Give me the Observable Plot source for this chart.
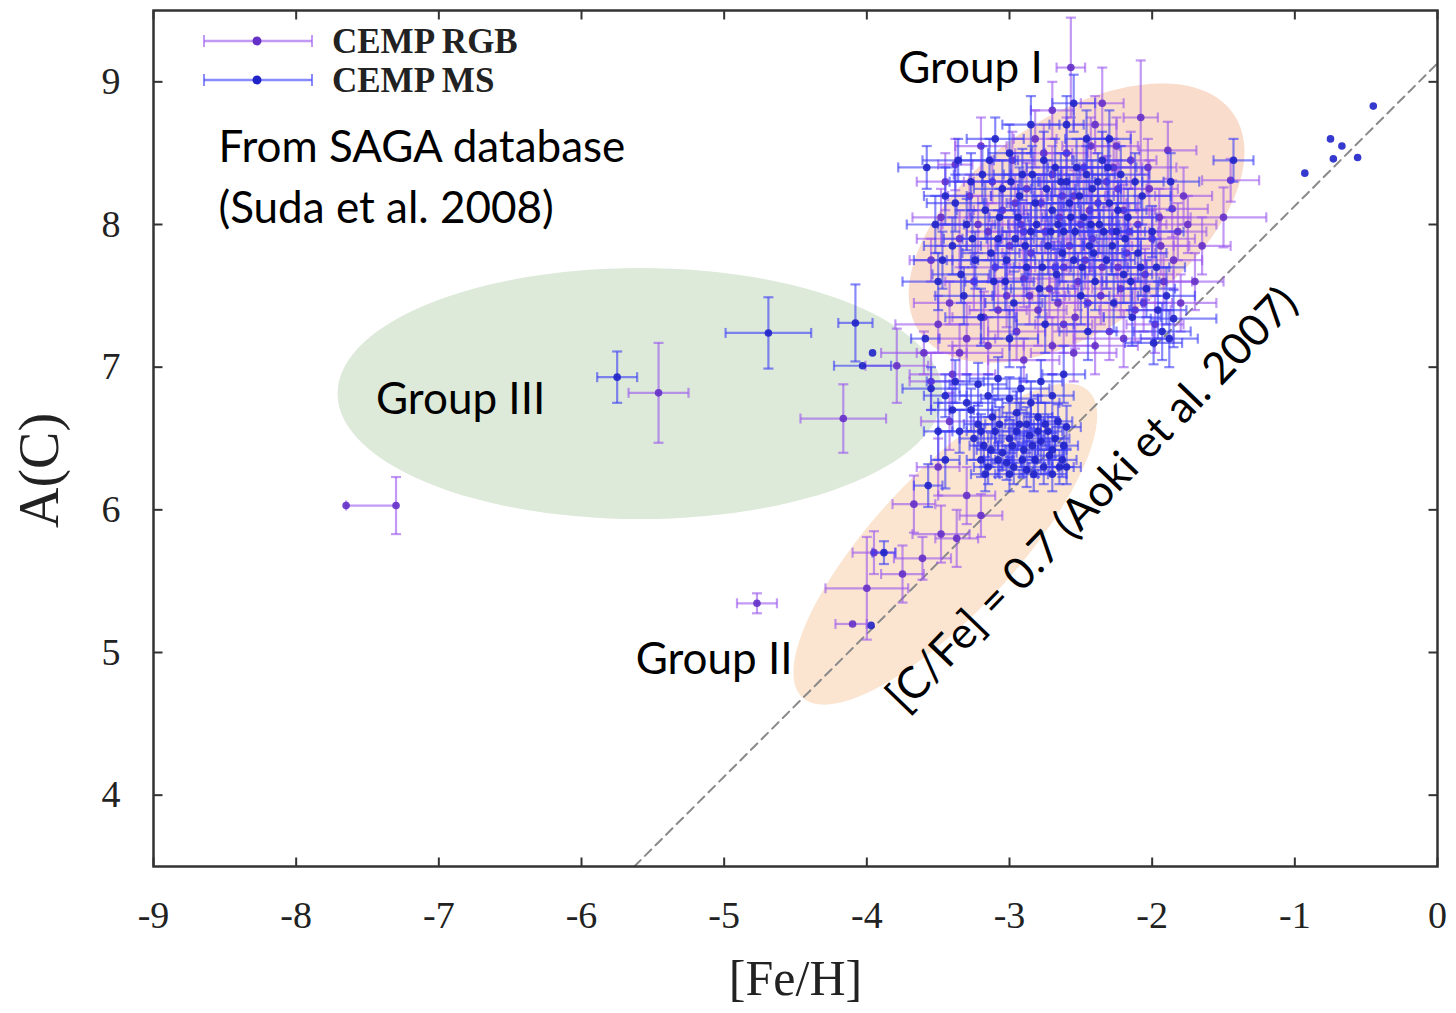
<!DOCTYPE html>
<html><head><meta charset="utf-8">
<script src="https://cdn.jsdelivr.net/npm/d3@7"></script>
<script src="https://cdn.jsdelivr.net/npm/@observablehq/plot@0.6"></script>
<style>
body{margin:0;background:#fff;}
#wrap{position:relative;width:1456px;height:1013px;}
#legend{position:absolute;left:0;top:0;}
</style></head><body>
<div id="wrap"></div>
<script>
// ---- axes ----
const xTicks = [-9, -8, -7, -6, -5, -4, -3, -2, -1, 0];
const yTicks = [4, 5, 6, 7, 8, 9];
const xDomain = [-9, 0];
const yDomain = [3.5, 9.5];

// ---- CEMP RGB stars: [Fe/H], A(C), err[Fe/H] (or [lo,hi]), errA(C) ----
const rgbStars = [
  [-7.65,6.03,0,0],[-7.30,6.03,[0.35,0],0.2],[-5.46,6.82,0.21,0.35],[-4.165,6.64,0.3,0.24],[-3.79,7.01,0.22,0.26],
  [-4.77,5.345,0.14,0.07],[-4.0,5.45,0.29,0.36],[-4.1,5.2,[0.12,0.1],0],[-3.95,5.7,0.15,0.15],[-3.75,5.55,0.15,0.2],
  [-3.67,6.04,0.15,0.2],[-3.61,5.66,0.2,0.15],[-3.48,5.83,0.2,0.2],[-3.37,5.8,0.15,0.2],[-3.2,5.96,0.15,0.15],
  [-3.3,6.1,0.2,0.2],[-3.5,6.3,0.15,0.2],[-3.42,6.62,0.2,0.2],[-3.55,6.9,0.15,0.2],[-3.35,7.1,0.3,0.2],
  [-3.55,7.75,0.15,0.15],[-3.48,8.05,0.2,0.2],[-3.42,7.45,0.25,0.15],[-3.38,8.42,0.12,0.18],[-3.35,7.9,0.3,0.2],
  [-3.3,7.2,0.2,0.25],[-3.28,8.2,0.15,0.15],[-3.25,7.6,0.2,0.2],[-3.2,8.55,0.18,0.2],[-3.18,7.35,0.22,0.18],
  [-3.15,7.95,0.15,0.2],[-3.12,8.3,0.2,0.15],[-3.1,7.7,0.25,0.2],[-3.05,8.1,0.2,0.2],[-3.02,7.5,0.18,0.22],
  [-3.0,7.85,0.3,0.2],[-2.98,8.45,0.15,0.2],[-2.95,7.25,0.2,0.2],[-2.92,8.0,0.2,0.15],[-2.9,7.62,0.25,0.2],
  [-2.88,8.25,0.18,0.18],[-2.85,7.8,0.2,0.2],[-2.82,8.6,0.15,0.2],[-2.8,7.4,0.2,0.25],[-2.78,8.15,0.22,0.2],
  [-2.75,7.95,0.2,0.15],[-2.72,7.55,0.18,0.2],[-2.7,8.35,0.2,0.2],[-2.68,7.7,0.25,0.18],[-2.65,8.05,0.2,0.2],
  [-2.62,7.3,0.2,0.2],[-2.6,8.5,0.15,0.25],[-2.58,7.85,0.2,0.2],[-2.57,9.1,0.1,0.35],[-2.55,8.2,0.22,0.18],
  [-2.52,7.6,0.2,0.2],[-2.5,8.0,0.25,0.2],[-2.48,8.4,0.2,0.2],[-2.45,7.45,0.2,0.2],[-2.42,7.9,0.18,0.15],
  [-2.4,8.7,0.15,0.2],[-2.38,8.15,0.2,0.2],[-2.35,7.7,0.25,0.2],[-2.32,8.3,0.2,0.18],[-2.3,7.25,0.3,0.2],
  [-2.28,7.95,0.2,0.2],[-2.25,8.55,0.15,0.2],[-2.22,7.55,0.2,0.2],[-2.2,8.1,0.22,0.18],[-2.18,7.8,0.2,0.2],
  [-2.15,8.45,0.18,0.2],[-2.12,7.4,0.25,0.22],[-2.1,8.0,0.2,0.2],[-2.08,8.75,0.12,0.4],[-2.05,7.65,0.2,0.18],
  [-2.02,8.25,0.2,0.2],[-2.0,7.9,0.3,0.2],[-1.98,7.3,0.2,0.2],[-1.95,8.05,0.22,0.2],[-1.92,7.6,0.2,0.2],
  [-1.89,8.52,0.2,0.2],[-1.86,8.11,0.25,0.2],[-1.85,7.75,0.2,0.2],[-1.8,7.45,0.25,0.2],[-1.75,8.0,0.2,0.2],
  [-1.7,7.6,0.2,0.2],[-1.45,8.31,0.2,0.15],[-1.5,8.05,[0.44,0.3],0.21],[-1.65,7.85,0.2,0.2],[-3.6,7.1,0.3,0.15],
  [-3.4,6.95,0.3,0.2],[-2.9,7.05,0.25,0.15],[-2.4,7.15,0.3,0.2],[-2.2,7.2,0.35,0.2],
  [-3.45,8.3,0.2,0.2],[-3.22,8.0,0.25,0.2],[-3.08,7.4,0.2,0.2],[-2.96,8.15,0.2,0.2],[-2.86,7.5,0.25,0.2],
  [-2.76,8.5,0.2,0.2],[-2.66,7.45,0.2,0.2],[-2.63,8.2,0.2,0.2],[-2.54,7.35,0.2,0.22],[-2.47,7.75,0.2,0.2],
  [-2.43,8.55,0.2,0.2],[-2.36,7.5,0.22,0.2],[-2.27,8.4,0.2,0.2],[-2.24,7.7,0.2,0.2],[-2.16,7.95,0.2,0.2],
  [-2.06,7.45,0.2,0.2],[-2.03,8.4,0.2,0.2],[-1.94,7.85,0.2,0.2],[-1.82,7.95,0.2,0.2],[-1.78,8.2,0.2,0.2],
  [-3.15,7.15,0.25,0.2],[-2.7,7.15,0.3,0.2],[-2.55,7.1,0.3,0.2],[-3.5,7.3,0.3,0.2],[-2.35,8.85,0.15,0.25],
  [-2.7,8.8,0.15,0.2],[-2.9,7.95,0.25,0.2],[-2.62,7.7,0.2,0.2],[-2.44,8.1,0.2,0.2],[-2.24,8.25,0.2,0.2]
];

// ---- CEMP MS stars ----
const msStars = [
  [-5.75,6.93,0.14,0.18],[-4.69,7.24,0.3,0.25],[-4.08,7.31,0.12,0.27],[-4.03,7.01,0.2,0],[-3.96,7.10,0,0],
  [-3.59,7.2,0.1,0],[-3.88,5.70,0.08,0.08],[-3.57,6.17,0.1,0.15],[-3.97,5.19,0,0],
  [-0.45,8.83,0,0],[-0.75,8.60,0,0],[-0.67,8.55,0,0],[-0.73,8.46,0,0],[-0.56,8.47,0,0],[-0.93,8.36,0,0],
  [-3.55,6.85,0.2,0.15],[-3.45,6.8,0.15,0.15],[-3.38,6.9,0.2,0.15],[-3.3,6.75,0.2,0.2],[-3.22,6.88,0.2,0.15],
  [-3.15,6.8,0.2,0.15],[-3.08,6.92,0.2,0.15],[-3.0,6.78,0.2,0.15],[-2.92,6.85,0.2,0.15],[-2.85,6.75,0.2,0.15],
  [-2.78,6.9,0.15,0.15],[-2.7,6.8,0.15,0.15],[-2.62,6.95,0.15,0.2],[-3.22,6.6,0.1,0.15],[-3.18,6.45,0.1,0.15],
  [-3.15,6.3,0.1,0.12],[-3.1,6.55,0.1,0.15],[-3.05,6.4,0.1,0.12],[-3.0,6.5,0.1,0.15],[-2.97,6.3,0.1,0.12],
  [-2.93,6.6,0.1,0.15],[-2.9,6.42,0.1,0.12],[-2.86,6.52,0.1,0.15],[-2.82,6.35,0.1,0.12],[-2.78,6.48,0.1,0.15],
  [-2.75,6.6,0.1,0.15],[-2.72,6.38,0.1,0.12],[-2.68,6.5,0.1,0.15],[-2.65,6.3,0.1,0.12],[-2.62,6.45,0.1,0.15],
  [-2.6,6.58,0.1,0.15],[-3.12,6.65,0.1,0.15],[-2.95,6.68,0.1,0.15],[-2.8,6.65,0.1,0.15],[-3.08,6.35,0.1,0.12],
  [-2.88,6.28,0.1,0.12],[-2.7,6.25,0.1,0.12],[-3.2,6.35,0.1,0.12],[-3.25,6.5,0.1,0.15],[-3.45,6.35,0.1,0.2],
  [-3.5,6.55,0.1,0.2],
  [-3.2,6.55,0.1,0.12],[-3.13,6.42,0.1,0.12],[-3.07,6.6,0.1,0.12],[-3.02,6.33,0.1,0.12],[-2.98,6.45,0.1,0.12],
  [-2.95,6.55,0.1,0.12],[-2.91,6.35,0.1,0.12],[-2.88,6.6,0.1,0.12],[-2.84,6.45,0.1,0.12],[-2.8,6.55,0.1,0.12],
  [-2.76,6.3,0.1,0.12],[-2.73,6.55,0.1,0.12],[-2.7,6.42,0.1,0.12],[-2.66,6.62,0.1,0.12],[-2.63,6.35,0.1,0.12],
  [-3.17,6.25,0.1,0.12],[-3.0,6.25,0.1,0.12],[-2.83,6.25,0.1,0.12],[-2.6,6.3,0.1,0.12],[-3.27,6.7,0.15,0.15],
  [-3.35,6.55,0.15,0.15],[-3.4,6.7,0.15,0.15],
  [-3.58,8.4,0.2,0.15],[-3.5,7.6,0.25,0.2],[-3.45,8.2,0.15,0.2],[-3.4,7.85,0.2,0.2],[-3.36,8.45,0.25,0.15],
  [-3.32,7.5,0.2,0.2],[-3.3,8.0,0.2,0.18],[-3.27,8.3,0.15,0.2],[-3.24,7.75,0.2,0.2],[-3.2,7.35,0.25,0.2],
  [-3.17,8.1,0.2,0.2],[-3.14,8.45,0.2,0.15],[-3.11,7.6,0.2,0.2],[-3.08,7.9,0.25,0.2],[-3.05,8.25,0.2,0.2],
  [-3.02,7.75,0.2,0.2],[-3.0,8.5,0.15,0.2],[-2.97,7.45,0.2,0.22],[-2.94,8.05,0.2,0.2],[-2.91,8.35,0.2,0.18],
  [-2.88,7.7,0.22,0.2],[-2.85,7.95,0.2,0.2],[-2.82,8.15,0.2,0.2],[-2.79,7.55,0.2,0.2],[-2.76,8.45,0.2,0.2],
  [-2.73,7.85,0.25,0.2],[-2.7,8.1,0.2,0.2],[-2.67,7.65,0.2,0.18],[-2.64,8.3,0.2,0.2],[-2.62,7.95,0.2,0.2],
  [-2.6,8.7,0.12,0.2],[-2.58,8.15,0.2,0.2],[-2.55,7.75,0.22,0.2],[-2.53,8.4,0.2,0.2],[-2.5,7.5,0.2,0.2],
  [-2.48,8.05,0.2,0.2],[-2.46,8.6,0.15,0.2],[-2.44,7.85,0.2,0.2],[-2.42,8.25,0.2,0.2],[-2.4,7.6,0.25,0.2],
  [-2.37,8.0,0.2,0.2],[-2.35,8.45,0.2,0.2],[-2.32,7.75,0.2,0.2],[-2.3,8.15,0.22,0.2],[-2.27,7.45,0.2,0.2],
  [-2.25,7.95,0.2,0.2],[-2.22,8.35,0.2,0.2],[-2.2,7.65,0.2,0.2],[-2.17,8.05,0.2,0.2],[-2.14,7.35,0.2,0.2],
  [-2.1,7.8,0.2,0.2],[-2.07,8.2,0.2,0.2],[-2.04,7.55,0.2,0.2],[-2.0,7.95,0.22,0.18],[-1.97,7.7,0.2,0.2],
  [-1.93,7.25,0.2,0.2],[-1.9,7.5,0.2,0.2],[-1.85,7.34,[0.16,0.3],0.2],[-1.99,7.17,0.2,0.15],[-1.43,8.45,0.14,0.15],
  [-1.87,8.3,0.2,0.2],[-2.55,8.85,0.15,0.2],[-2.85,8.7,0.2,0.2],[-3.1,8.6,0.2,0.15],[-2.3,8.6,0.15,0.2],
  [-2.75,7.3,0.2,0.2],[-2.45,7.25,0.2,0.2],[-3.0,7.2,0.2,0.2],
  [-3.52,8.0,0.2,0.2],[-3.47,7.75,0.2,0.2],[-3.38,8.15,0.2,0.2],[-3.34,7.65,0.2,0.2],[-3.26,7.9,0.2,0.2],
  [-3.19,8.35,0.2,0.2],[-3.13,7.8,0.2,0.2],[-3.07,8.05,0.2,0.2],[-3.03,7.6,0.2,0.2],[-2.99,8.3,0.2,0.2],
  [-2.96,7.9,0.2,0.2],[-2.93,8.2,0.2,0.2],[-2.89,7.85,0.2,0.2],[-2.84,8.35,0.2,0.2],[-2.81,8.0,0.2,0.2],
  [-2.77,7.7,0.2,0.2],[-2.74,8.25,0.2,0.2],[-2.71,7.95,0.2,0.2],[-2.68,8.4,0.2,0.2],[-2.66,8.0,0.2,0.2],
  [-2.63,7.8,0.2,0.2],[-2.6,8.3,0.2,0.2],[-2.57,8.05,0.2,0.2],[-2.54,7.95,0.2,0.2],[-2.51,8.2,0.2,0.2],
  [-2.49,7.7,0.2,0.2],[-2.46,8.35,0.2,0.2],[-2.43,8.0,0.2,0.2],[-2.41,7.8,0.2,0.2],[-2.38,8.3,0.2,0.2],
  [-2.34,7.95,0.2,0.2],[-2.31,8.4,0.2,0.2],[-2.28,7.85,0.2,0.2],[-2.24,8.1,0.2,0.2],[-2.19,7.9,0.2,0.2],
  [-2.15,7.6,0.2,0.2],[-2.12,8.3,0.2,0.2],[-2.08,7.7,0.2,0.2],[-1.96,7.4,0.2,0.2],[-1.88,7.2,0.2,0.2]
];

// ---- shaded groups: centre [Fe/H], centre A(C), semi-axes, tilt (deg) ----
const groupNames = ["Group III", "Group I", "Group II"];
const groupCx = [-5.59, -2.53, -3.45];
const groupCy = [6.815, 8.01, 5.76];
const groupA = [2.12, 1.34, 1.47];
const groupB = [0.88, 0.74, 0.49];
const groupTilt = [0, 35, 47];
const groupFill = ["#dde9d9", "#f9dccb", "#fbe5d1"];

// ---- reference relation [C/Fe] = 0.7 (Aoki et al. 2007) ----
const cFeLimit = 0.7;
const solarC = 8.43;

// ---- annotations ----
const noteText = ["From SAGA database", "(Suda et al. 2008)", "Group I", "Group II", "Group III"];
const noteFe = [-8.545, -8.545, -3.78, -5.62, -7.44];
const noteC = [8.54, 8.11, 9.09, 4.95, 6.77];
const lineLabel = "[C/Fe] = 0.7 (Aoki et al. 2007)";
const lineLabelFe = -2.42;
const lineLabelC = 6.07;

// ---- series styles ----
const series = [
  {name: "CEMP RGB", stars: rgbStars, bar: "#9a55ee", mark: "#6530c8"},
  {name: "CEMP MS", stars: msStars, bar: "#3a3cf6", mark: "#2024c8"}
];

function toRows(list) {
  return list.map(([x, y, ex, ey]) => {
    const [lo, hi] = Array.isArray(ex) ? ex : [ex, ex];
    return {x, y, xl: x - lo, xh: x + hi, yl: y - ey, yh: y + ey, lo, hi, ey};
  });
}
function ellipse(i) {
  const pts = [];
  const t = groupTilt[i] * Math.PI / 180;
  for (let k = 0; k <= 120; k++) {
    const a = 2 * Math.PI * k / 120;
    const u = groupA[i] * Math.cos(a), v = groupB[i] * Math.sin(a);
    pts.push({x: groupCx[i] + u * Math.cos(t) - v * Math.sin(t), y: groupCy[i] + u * Math.sin(t) + v * Math.cos(t)});
  }
  return pts;
}
const rr = s => Math.sqrt(s / Math.PI);
const vbar = {draw(c, s) { const r = rr(s); c.moveTo(0, -r); c.lineTo(0, r); }};
const hbar = {draw(c, s) { const r = rr(s); c.moveTo(-r, 0); c.lineTo(r, 0); }};
const tUp = {draw(c, s) { const r = rr(s); c.moveTo(0, 0); c.lineTo(0, -r); }};
const tDown = {draw(c, s) { const r = rr(s); c.moveTo(0, 0); c.lineTo(0, r); }};
const tRight = {draw(c, s) { const r = rr(s); c.moveTo(0, 0); c.lineTo(r, 0); }};
const tLeft = {draw(c, s) { const r = rr(s); c.moveTo(0, 0); c.lineTo(-r, 0); }};

const marks = [];
[0, 1, 2].forEach(i => marks.push(Plot.line(ellipse(i), {x: "x", y: "y", fill: groupFill[i], stroke: "none"})));
const icpt = solarC + cFeLimit;
marks.push(Plot.line([{x: yDomain[0] - icpt, y: yDomain[0]}, {x: 0, y: icpt}],
  {x: "x", y: "y", stroke: "#8a8a8a", strokeWidth: 2, strokeDasharray: "9,6"}));

for (const s of series) {
  const rows = toRows(s.stars);
  const bx = rows.filter(d => d.lo + d.hi > 0), by = rows.filter(d => d.ey > 0);
  const st = {stroke: s.bar, strokeOpacity: 0.6, strokeWidth: 2.2};
  marks.push(Plot.link(bx, {x1: "xl", x2: "xh", y1: "y", y2: "y", ...st}));
  marks.push(Plot.link(by, {x1: "x", x2: "x", y1: "yl", y2: "yh", ...st}));
  marks.push(Plot.dot(rows.filter(d => d.lo > 0), {x: "xl", y: "y", symbol: vbar, r: 5, fill: "none", ...st}));
  marks.push(Plot.dot(rows.filter(d => d.hi > 0), {x: "xh", y: "y", symbol: vbar, r: 5, fill: "none", ...st}));
  marks.push(Plot.dot(by, {x: "x", y: "yl", symbol: hbar, r: 5, fill: "none", ...st}));
  marks.push(Plot.dot(by, {x: "x", y: "yh", symbol: hbar, r: 5, fill: "none", ...st}));
  marks.push(Plot.dot(rows, {x: "x", y: "y", r: 3.8, fill: s.mark, fillOpacity: 0.9, stroke: "none"}));
}

// annotations
marks.push(Plot.text(noteText, {x: (d, i) => noteFe[i], y: (d, i) => noteC[i], text: d => d,
  textAnchor: "start", fontFamily: "Lato", fontSize: 44, fill: "#000"}));
marks.push(Plot.text([lineLabel], {x: () => lineLabelFe, y: () => lineLabelC, text: d => d, rotate: -46,
  fontFamily: "Lato", fontSize: 44, fill: "#000"}));

// ticks (inward, all four sides)
const tk = {r: 9, fill: "none", stroke: "#333", strokeWidth: 2};
marks.push(Plot.dot(xTicks, {x: d => d, frameAnchor: "bottom", symbol: tUp, ...tk}));
marks.push(Plot.dot(xTicks, {x: d => d, frameAnchor: "top", symbol: tDown, ...tk}));
marks.push(Plot.dot(yTicks, {y: d => d, frameAnchor: "left", symbol: tRight, ...tk}));
marks.push(Plot.dot(yTicks, {y: d => d, frameAnchor: "right", symbol: tLeft, ...tk}));
marks.push(Plot.frame({stroke: "#333", strokeWidth: 2.5}));

// axis titles
marks.push(Plot.text(["[Fe/H]"], {text: d => d, frameAnchor: "bottom", dy: 112, textAnchor: "middle", lineAnchor: "middle", fontSize: 50, fill: "#222"}));
marks.push(Plot.text(["A(C)"], {text: d => d, frameAnchor: "left", dx: -113, dy: 32, rotate: -90, textAnchor: "middle", lineAnchor: "middle", fontSize: 56, fill: "#222"}));

const chart = Plot.plot({
  width: 1456, height: 1013,
  marginLeft: 153, marginRight: 19, marginTop: 10, marginBottom: 147,
  style: {fontFamily: "'Liberation Serif', 'Times New Roman', serif", fontSize: "38px", color: "#222", background: "#fff"},
  x: {domain: xDomain, ticks: xTicks, tickSize: 0, tickPadding: 35, tickFormat: d => String(d), label: null},
  y: {domain: yDomain, ticks: yTicks, tickSize: 0, tickPadding: 33, tickFormat: d => String(d), label: null},
  marks
});
document.getElementById("wrap").appendChild(chart);

// legend (inside the plot, top-left)
const lg = d3.select("#wrap").append("svg").attr("id", "legend").attr("width", 600).attr("height", 110);
const legY = [41, 80];
series.forEach((s, i) => {
  const g = lg.append("g");
  const y = legY[i];
  g.append("line").attr("x1", 204).attr("x2", 312).attr("y1", y).attr("y2", y)
    .attr("stroke", s.bar).attr("stroke-opacity", 0.6).attr("stroke-width", 2.5);
  [204, 312].forEach(x => g.append("line").attr("x1", x).attr("x2", x).attr("y1", y - 6).attr("y2", y + 6)
    .attr("stroke", s.bar).attr("stroke-opacity", 0.6).attr("stroke-width", 2));
  g.append("circle").attr("cx", 257).attr("cy", y).attr("r", 4.5).attr("fill", s.mark);
  g.append("text").attr("x", 332).attr("y", y).attr("dy", "0.35em").text(s.name)
    .attr("font-family", "'Liberation Serif', serif").attr("font-weight", "bold").attr("font-size", 35).attr("fill", "#222");
});
</script>
</body></html>
